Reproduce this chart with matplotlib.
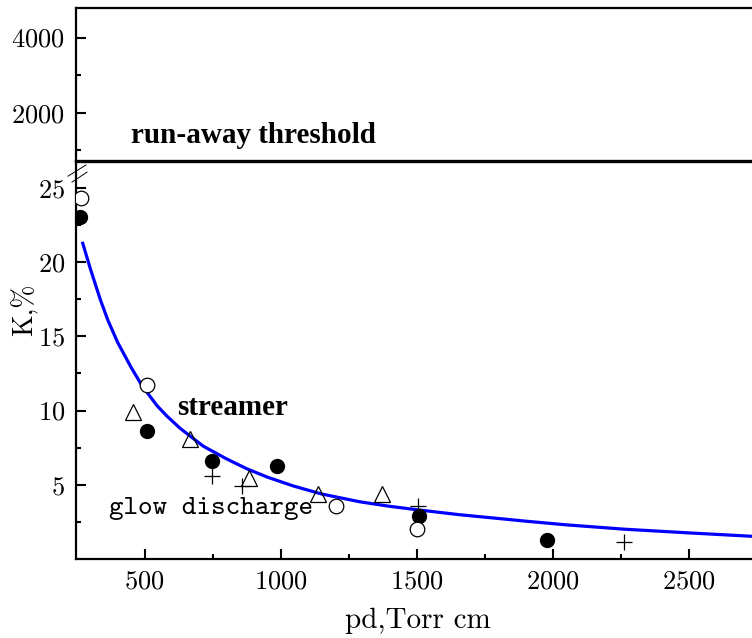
import numpy as np
import matplotlib.pyplot as plt
from matplotlib.lines import Line2D
from matplotlib.ticker import MultipleLocator, FixedLocator

plt.rcParams['axes.formatter.use_mathtext'] = True

# filled circles
pd_filled = [262, 508, 748, 986, 1508, 1978]
k_filled = [23.0, 8.63, 6.62, 6.23, 2.92, 1.30]
# open circles
pd_open = [266, 510, 1203, 1500]
k_open = [24.3, 11.73, 3.59, 2.04]
# triangles
pd_tri = [458, 667, 885, 1136, 1374]
k_tri = [9.9, 8.1, 5.45, 4.40, 4.35]
# plus
pd_plus = [746, 857, 1506, 2262]
k_plus = [5.56, 4.94, 3.59, 1.12]

# fitted curve
pd_fit = [272, 299, 336, 364, 400, 450, 489, 544, 580, 630, 715, 800, 875,
          950, 1046, 1150, 1292, 1400, 1500, 1659, 1806, 1900, 2051, 2262,
          2500, 2733]
k_fit = [21.26, 19.6, 17.5, 16.1, 14.6, 12.9, 11.7, 10.35, 9.65, 8.8, 7.6,
         6.75, 6.08, 5.52, 4.92, 4.38, 3.85, 3.55, 3.32, 2.98, 2.72, 2.55,
         2.30, 2.01, 1.76, 1.53]

threshold = 712
x_range = (247, 2733)
k_range = (0, 26.8)
upper_range = (threshold, 4790)

fig = plt.figure(figsize=(7.52, 6.38), dpi=100)
ax_lo = fig.add_axes([0.101, 0.1238, 0.899, 0.6238])
ax_hi = fig.add_axes([0.101, 0.7476, 0.899, 0.2399], sharex=ax_lo)

for ax in (ax_lo, ax_hi):
    ax.spines['right'].set_visible(False)
    for s in ax.spines.values():
        s.set_linewidth(1.6)
    ax.tick_params(which='both', direction='in', width=1.5)
    ax.tick_params(which='major', length=7.5, pad=8)
    ax.tick_params(which='minor', length=3.8)

ax_lo.spines['top'].set_visible(False)
ax_hi.spines['bottom'].set_visible(False)
ax_hi.tick_params(axis='x', which='both', bottom=False, labelbottom=False)
ax_lo.tick_params(axis='y', right=False, which='both')
ax_lo.tick_params(axis='x', which='both', top=False)

ax_lo.set_xlim(*x_range)
ax_lo.set_ylim(*k_range)
ax_hi.set_ylim(*upper_range)

ax_lo.xaxis.set_major_locator(MultipleLocator(500))
ax_lo.xaxis.set_minor_locator(FixedLocator([750, 1250, 1750, 2250]))
ax_lo.yaxis.set_major_locator(FixedLocator([5, 10, 15, 20, 25]))
ax_lo.yaxis.set_minor_locator(FixedLocator([2.5, 7.5, 12.5, 17.5, 22.5]))
ax_hi.yaxis.set_major_locator(MultipleLocator(2000))
ax_hi.yaxis.set_minor_locator(MultipleLocator(1000))

for ax in (ax_lo, ax_hi):
    for lab in ax.get_yticklabels() + ax.get_xticklabels():
        lab.set_fontfamily('cmr10')
        lab.set_fontsize(19)

ax_lo.plot(pd_fit, k_fit, color='#0000ff', lw=2.3, zorder=3)
ax_lo.plot(pd_filled, k_filled, 'o', color='black', ms=10, zorder=4)
ax_lo.plot(pd_open, k_open, 'o', mfc='white', mec='black', mew=0.9, ms=10.5, zorder=4)
ax_lo.plot(pd_tri, k_tri, '^', mfc='none', mec='black', mew=0.9, ms=12, zorder=4)
ax_lo.plot(pd_plus, k_plus, '+', color='black', mew=0.9, ms=11, zorder=4)

ax_hi.axhline(threshold, color='black', lw=2.4, clip_on=False, zorder=5)
fig.text(0.174, 0.776, 'run-away threshold', family='Liberation Serif',
         weight='bold', size=21, ha='left', va='baseline')
ax_lo.text(618, 9.7, 'streamer', family='Liberation Serif', weight='bold',
           size=21, ha='left', va='baseline')
ax_lo.text(367, 3.05, 'glow discharge', family='cmtt10', size=20,
           ha='left', va='baseline')

# break marks on the left spine
for (x0, y0), (x1, y1) in [((-0.0118, 0.962), (0.0148, 0.990)),
                           ((-0.0059, 0.947), (0.0163, 0.972))]:
    ax_lo.add_line(Line2D([x0, x1], [y0, y1], transform=ax_lo.transAxes,
                          color='black', lw=0.7, clip_on=False))

fig.text(418 / 752, 1 - 621 / 638, 'pd,Torr cm', family='cmr10', size=21,
         ha='center', va='center')
fig.text(25 / 752, 1 - 310 / 638, 'K,%', family='cmr10', size=20,
         rotation=90, ha='center', va='center')

fig.savefig('out.png', dpi=100)
